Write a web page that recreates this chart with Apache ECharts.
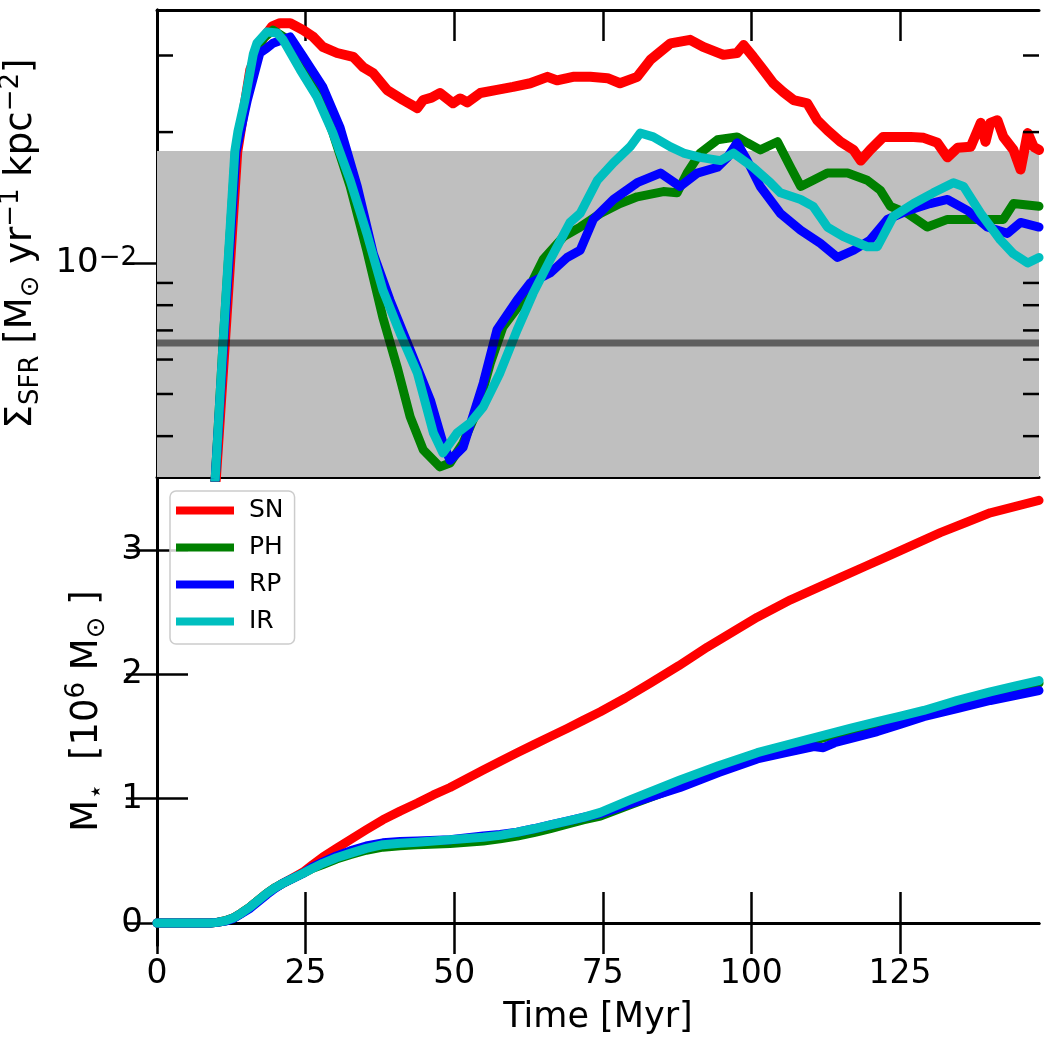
<!DOCTYPE html>
<html><head><meta charset="utf-8">
<script src="https://cdn.jsdelivr.net/npm/echarts@6/dist/echarts.min.js"></script>
<style>html,body{margin:0;padding:0;background:#fff}#c{width:1050px;height:1050px}</style>
</head><body><div id="c"></div>
<script>
const seriesNames = ['SN', 'PH', 'RP', 'IR'];
const seriesColors = ['#ff0000', '#008000', '#0000ff', '#00bfbf'];

// Top panel: Sigma_SFR [Msun / yr / kpc^2] vs time [Myr]
const sfrSN = [[9.0,0.0024],[9.9,0.0032],[11.4,0.0065],[13.5,0.018],[15.7,0.0278],[17.7,0.0326],[19.4,0.035],[20.7,0.0356],[22.4,0.0356],[24.6,0.0343],[26.3,0.0331],[27.9,0.0314],[30.3,0.0304],[33.0,0.0298],[34.7,0.0282],[36.4,0.0273],[38.7,0.0250],[41.4,0.0237],[43.8,0.0227],[44.8,0.0237],[46.2,0.0240],[47.6,0.0246],[49.8,0.0233],[51.0,0.0239],[52.2,0.0234],[54.4,0.0246],[57.2,0.0250],[59.9,0.0254],[62.8,0.0259],[65.7,0.0268],[67.3,0.0263],[70.0,0.0268],[72.9,0.0268],[75.8,0.0266],[77.9,0.0259],[80.8,0.0268],[83.0,0.0293],[86.4,0.0320],[89.7,0.0326],[91.9,0.0314],[95.3,0.0301],[97.6,0.0304],[98.7,0.0317],[100.3,0.0298],[102.0,0.0278],[103.7,0.0259],[105.4,0.0247],[107.1,0.0237],[109.4,0.0233],[111.1,0.0213],[112.8,0.0202],[115.0,0.0190],[117.2,0.0182],[118.4,0.0172],[120.0,0.0182],[122.2,0.0195],[124.6,0.0195],[126.8,0.0195],[129.0,0.0194],[131.3,0.0189],[133.0,0.0175],[134.7,0.0184],[136.9,0.0185],[138.6,0.0210],[139.4,0.0190],[140.2,0.0210],[141.4,0.0213],[142.4,0.0195],[144.1,0.0182],[145.3,0.0164],[146.5,0.0199],[147.5,0.0185],[148.4,0.0182]];
const sfrPH = [[9.0,0.0024],[9.8,0.0032],[11.1,0.0065],[13.2,0.018],[14.9,0.0237],[16.3,0.0300],[18.0,0.0330],[19.5,0.0343],[21.5,0.0330],[24.1,0.0293],[26.9,0.0250],[29.6,0.0199],[32.5,0.0150],[35.3,0.0107],[38.0,0.0075],[40.4,0.00577],[42.6,0.00443],[44.8,0.00372],[47.6,0.0034],[49.3,0.00347],[51.5,0.00386],[53.9,0.00459],[56.1,0.00589],[58.2,0.00713],[61.6,0.00822],[65.0,0.0102],[68.4,0.0115],[71.2,0.0121],[74.6,0.0130],[77.9,0.0137],[80.8,0.0142],[85.2,0.0146],[87.5,0.0145],[89.2,0.0161],[91.4,0.0179],[94.3,0.0192],[97.6,0.0195],[99.3,0.0189],[101.5,0.0182],[104.4,0.0190],[106.6,0.0166],[108.3,0.0150],[110.4,0.0155],[112.8,0.0161],[116.2,0.0161],[119.5,0.0155],[121.7,0.0147],[123.4,0.0135],[126.3,0.0130],[129.6,0.0121],[133.0,0.0126],[136.4,0.0126],[140.2,0.0126],[142.4,0.0126],[144.1,0.0137],[148.4,0.0135]];
const sfrRP = [[9.0,0.0024],[9.8,0.0032],[11.2,0.0065],[13.3,0.018],[15.2,0.0237],[17.3,0.0304],[18.5,0.0312],[19.5,0.0320],[22.4,0.0331],[24.6,0.0298],[27.9,0.0254],[30.8,0.0205],[33.7,0.0150],[36.4,0.0105],[39.2,0.00822],[42.6,0.00631],[46.0,0.00484],[48.1,0.00386],[49.3,0.00352],[51.5,0.00377],[54.9,0.0053],[57.2,0.00702],[60.6,0.00822],[62.8,0.0090],[66.2,0.0095],[69.0,0.0103],[71.2,0.0107],[73.4,0.0126],[76.8,0.0140],[80.8,0.0153],[84.7,0.0161],[88.0,0.0150],[90.9,0.0161],[94.3,0.0166],[96.0,0.0175],[97.6,0.0189],[99.3,0.0172],[101.5,0.0150],[104.9,0.0130],[108.3,0.0119],[111.6,0.0111],[114.5,0.0103],[117.2,0.0107],[120.0,0.0113],[122.9,0.0126],[126.3,0.0132],[130.1,0.0137],[133.0,0.0140],[136.4,0.0132],[139.7,0.0121],[143.1,0.0117],[145.3,0.0124],[148.4,0.0121]];
const sfrIR = [[9.0,0.0024],[9.8,0.0032],[11.1,0.0065],[13.1,0.0181],[13.6,0.020],[14.8,0.0237],[16.2,0.0302],[16.8,0.0320],[18.5,0.0340],[20.2,0.0338],[21.2,0.0326],[24.1,0.0278],[26.9,0.0241],[29.6,0.0199],[32.5,0.0155],[35.3,0.0117],[38.0,0.00867],[40.9,0.0069],[43.8,0.00559],[46.5,0.00407],[48.1,0.00366],[50.5,0.00407],[52.7,0.00429],[54.9,0.00467],[57.7,0.00559],[60.6,0.00702],[63.3,0.00853],[66.2,0.0102],[69.5,0.0124],[71.2,0.0130],[74.1,0.0155],[76.8,0.0170],[79.6,0.0185],[81.3,0.0199],[83.5,0.0195],[86.4,0.0185],[88.6,0.0179],[91.4,0.0175],[94.8,0.0172],[97.0,0.0179],[100.3,0.0166],[103.2,0.0153],[104.9,0.0145],[108.3,0.0140],[110.4,0.0135],[112.8,0.0121],[115.5,0.0115],[119.5,0.0109],[121.2,0.0109],[123.9,0.0128],[127.3,0.0137],[130.6,0.0145],[134.0,0.0153],[135.7,0.0150],[138.6,0.0130],[141.9,0.0113],[144.1,0.0105],[146.5,0.0100],[148.4,0.0103]];

// Bottom panel: stellar mass [1e6 Msun] vs time [Myr]
const massSN = [[0,0],[9,0],[10.1,0.005],[11.5,0.018],[12.8,0.04],[14.2,0.08],[15.7,0.13],[17.1,0.185],[18.5,0.24],[19.9,0.285],[21.2,0.32],[22.9,0.365],[24.6,0.41],[26.2,0.47],[27.9,0.53],[30.2,0.60],[32.5,0.67],[35.2,0.75],[38.0,0.83],[40.9,0.90],[43.8,0.965],[46.5,1.03],[49.3,1.09],[52.1,1.16],[54.9,1.23],[57.7,1.30],[60.6,1.37],[63.4,1.435],[66.2,1.50],[69.0,1.565],[71.7,1.63],[74.6,1.70],[78.8,1.81],[83.0,1.93],[87.8,2.07],[92.6,2.22],[96.8,2.34],[101.0,2.46],[103.8,2.53],[106.6,2.60],[110.8,2.69],[115.0,2.78],[119.2,2.87],[123.4,2.96],[127.6,3.05],[131.8,3.14],[136.0,3.22],[140.2,3.30],[144.3,3.35],[148.4,3.40]];
const massPH = [[0,0],[9,0],[10.1,0.005],[11.5,0.018],[12.8,0.04],[14.2,0.08],[15.7,0.13],[17.1,0.185],[18.5,0.24],[19.9,0.285],[21.2,0.32],[22.9,0.36],[24.6,0.40],[26.2,0.44],[27.9,0.47],[30.2,0.515],[32.5,0.55],[35.2,0.585],[38.0,0.61],[40.9,0.622],[43.8,0.63],[49.3,0.64],[54.9,0.66],[57.7,0.677],[60.6,0.70],[63.4,0.728],[66.2,0.76],[69.0,0.795],[71.7,0.83],[74.6,0.86],[79.6,0.95],[83.8,1.025],[88.0,1.10],[94.5,1.22],[101.0,1.34],[106.5,1.42],[112.1,1.49],[116.6,1.545],[121.2,1.60],[125.1,1.645],[129.0,1.69],[134.6,1.76],[140.2,1.83],[144.3,1.88],[148.4,1.93]];
const massRP = [[0,0],[9,0],[10.1,0.005],[11.5,0.015],[12.8,0.035],[14.2,0.075],[15.7,0.12],[17.1,0.175],[18.5,0.23],[19.9,0.28],[21.2,0.32],[22.9,0.36],[24.6,0.40],[26.2,0.45],[27.9,0.49],[30.2,0.54],[32.5,0.58],[35.2,0.62],[38.0,0.645],[40.9,0.655],[43.8,0.66],[49.3,0.67],[54.9,0.70],[57.7,0.713],[60.6,0.73],[63.4,0.758],[66.2,0.79],[69.0,0.82],[71.7,0.85],[74.6,0.88],[79.6,0.96],[83.8,1.025],[88.0,1.09],[94.5,1.21],[101.0,1.32],[105.8,1.37],[110.5,1.42],[112.1,1.41],[114.0,1.45],[117.6,1.495],[121.2,1.54],[125.1,1.60],[129.0,1.66],[134.6,1.725],[140.2,1.79],[144.3,1.83],[148.4,1.87]];
const massIR = [[0,0],[9,0],[10.1,0.005],[11.5,0.018],[12.8,0.04],[14.2,0.08],[15.7,0.13],[17.1,0.185],[18.5,0.24],[19.9,0.285],[21.2,0.32],[22.9,0.36],[24.6,0.40],[26.2,0.44],[27.9,0.48],[30.2,0.525],[32.5,0.56],[35.2,0.60],[38.0,0.63],[40.9,0.642],[43.8,0.65],[49.3,0.67],[54.9,0.69],[57.7,0.705],[60.6,0.73],[63.4,0.758],[66.2,0.79],[69.0,0.82],[71.7,0.85],[74.6,0.89],[79.6,0.99],[83.8,1.07],[88.0,1.15],[94.5,1.265],[101.0,1.37],[106.5,1.44],[112.1,1.51],[116.6,1.565],[121.2,1.62],[125.1,1.665],[129.0,1.71],[134.6,1.79],[140.2,1.86],[144.3,1.905],[148.4,1.95]];

const xMin = 0, xMax = 148.4;
const xTicks = [0, 25, 50, 75, 100, 125];
const sfrMin = 0.003222, sfrMax = 0.03817;
const sfrMajorTicks = [0.01];
const sfrMinorTicks = [0.004, 0.005, 0.006, 0.007, 0.008, 0.009, 0.02, 0.03];
const massMin = -0.177, massMax = 3.588;
const massTicks = [0, 1, 2, 3];
const sfrBandTop = 0.0181;
const sfrRefLine = 0.00655;

const FONT = 'DejaVu Sans';
const chart = echarts.init(document.getElementById('c'), null, {renderer: 'canvas'});

const spine = {show: true, lineStyle: {color: '#000', width: 3}};
function xAx(grid, pos, labels) {
  return {
    type: 'value', gridIndex: grid, position: pos, min: xMin, max: xMax,
    axisLine: spine, splitLine: {show: false},
    axisTick: {show: true, inside: true, length: 31, lineStyle: {width: 2.5, color: '#000'}, customValues: xTicks},
    axisLabel: labels ? {show: true, customValues: xTicks, fontSize: 33, fontFamily: FONT, color: '#000', margin: 13} : {show: false},
    name: labels ? 'Time [Myr]' : '', nameLocation: 'middle', nameGap: 53,
    nameTextStyle: {fontSize: 35, fontFamily: FONT, color: '#000', lineHeight: 40}
  };
}
const richLabel = {
  n: {fontSize: 37, fontFamily: FONT, color: '#000', lineHeight: 46},
  sub: {fontSize: 26, fontFamily: FONT, color: '#000', lineHeight: 26, verticalAlign: 'bottom'},
  sup: {fontSize: 26, fontFamily: FONT, color: '#000', lineHeight: 26, verticalAlign: 'top'}
};
function logAx(pos, withLabel) {
  return {
    type: 'log', logBase: 10, gridIndex: 0, position: pos, min: sfrMin, max: sfrMax,
    axisLine: spine, splitLine: {show: false}, minorTick: {show: false},
    axisTick: {show: true, inside: true, length: 31, lineStyle: {width: 2.5, color: '#000'}, customValues: sfrMajorTicks},
    axisLabel: withLabel ? {
      show: true, customValues: sfrMajorTicks, margin: 20,
      formatter: function (v) { return '{b|10}{s|\u22122}'; },
      rich: {
        b: {fontSize: 34, fontFamily: FONT, color: '#000', lineHeight: 36},
        s: {fontSize: 26, fontFamily: FONT, color: '#000', lineHeight: 26, verticalAlign: 'top'}
      }
    } : {show: false},
    name: withLabel ? '{n|\u03A3}{sub|SFR}{n| [M}{sub|\u2299}{n| yr}{sup|\u22121}{n| kpc}{sup|\u22122}{n|]}' : '',
    nameLocation: 'middle', nameRotate: 90, nameGap: 110,
    nameTextStyle: {rich: richLabel}
  };
}
function massAx(pos, withLabel) {
  return {
    type: 'value', gridIndex: 1, position: pos, min: massMin, max: massMax,
    axisLine: spine, splitLine: {show: false},
    axisTick: {show: true, inside: true, length: 31, lineStyle: {width: 2.5, color: '#000'}, customValues: massTicks},
    axisLabel: withLabel ? {show: true, customValues: massTicks, fontSize: 34, fontFamily: FONT, color: '#000', margin: 14} : {show: false},
    name: withLabel ? '{n|M}{sub|\u22C6}{n|  [10}{sup|6}{n| M}{sub|\u2299}{n| ]}' : '',
    nameLocation: 'middle', nameRotate: 90, nameGap: 45,
    nameTextStyle: {rich: richLabel}
  };
}

const sfrData = [sfrSN, sfrPH, sfrRP, sfrIR];
const massData = [massSN, massPH, massRP, massIR];
const series = [];
series.push({
  type: 'line', xAxisIndex: 0, yAxisIndex: 0, data: [], silent: true, z: 1,
  markArea: {silent: true, itemStyle: {color: '#bfbfbf'}, data: [[{yAxis: sfrMin}, {yAxis: sfrBandTop}]]}
});
seriesNames.forEach(function (name, i) {
  series.push({
    name: name, type: 'line', xAxisIndex: 0, yAxisIndex: 0, data: sfrData[i],
    showSymbol: false, symbol: 'none', z: 3 + i, clip: true,
    lineStyle: {color: seriesColors[i], width: i === 0 ? 10 : 9, cap: 'round', join: 'round'},
    itemStyle: {color: seriesColors[i]}
  });
});
series.push({
  type: 'line', xAxisIndex: 0, yAxisIndex: 0, silent: true, z: 20,
  data: [[xMin, sfrRefLine], [xMax, sfrRefLine]],
  showSymbol: false, symbol: 'none',
  lineStyle: {color: 'rgba(0,0,0,0.5)', width: 7, cap: 'butt'}
});
series.push({
  type: 'custom', xAxisIndex: 0, yAxisIndex: 0, silent: true, z: 30, clip: false,
  data: sfrMinorTicks.map(function (v) { return [xMin, v]; }),
  encode: {x: 0, y: 1},
  renderItem: function (params, api) {
    const p = api.coord([api.value(0), api.value(1)]);
    const cs = params.coordSys;
    const y = p[1];
    const st = {stroke: '#000', lineWidth: 2.5};
    return {type: 'group', children: [
      {type: 'line', shape: {x1: cs.x, y1: y, x2: cs.x + 16, y2: y}, style: st},
      {type: 'line', shape: {x1: cs.x + cs.width - 16, y1: y, x2: cs.x + cs.width, y2: y}, style: st}
    ]};
  }
});
seriesNames.forEach(function (name, i) {
  series.push({
    name: name, type: 'line', xAxisIndex: 2, yAxisIndex: 2, data: massData[i],
    showSymbol: false, symbol: 'none', z: 3 + i, clip: true,
    lineStyle: {color: seriesColors[i], width: 9, cap: 'round', join: 'round'},
    itemStyle: {color: seriesColors[i]}
  });
});

chart.setOption({
  animation: false,
  backgroundColor: '#fff',
  grid: [
    {left: 157, width: 882, top: 10, height: 467, outerBoundsMode: 'none', containLabel: false},
    {left: 157, width: 882, top: 477, height: 468, outerBoundsMode: 'none', containLabel: false}
  ],
  xAxis: [xAx(0, 'bottom', false), xAx(0, 'top', false), xAx(1, 'bottom', true), xAx(1, 'top', false)],
  yAxis: [logAx('left', true), logAx('right', false), massAx('left', true), massAx('right', false)],
  legend: {
    data: seriesNames, orient: 'vertical', left: 170, top: 491,
    icon: 'rect', itemWidth: 58, itemHeight: 8, itemGap: 12,
    padding: [7, 11, 10, 6],
    backgroundColor: 'rgba(255,255,255,0.8)', borderColor: '#cccccc', borderWidth: 1.5, borderRadius: 6,
    textStyle: {fontSize: 25, fontFamily: FONT, color: '#000', lineHeight: 25, padding: [0, 0, 0, 10]}
  },
  series: series
});
</script></body></html>
